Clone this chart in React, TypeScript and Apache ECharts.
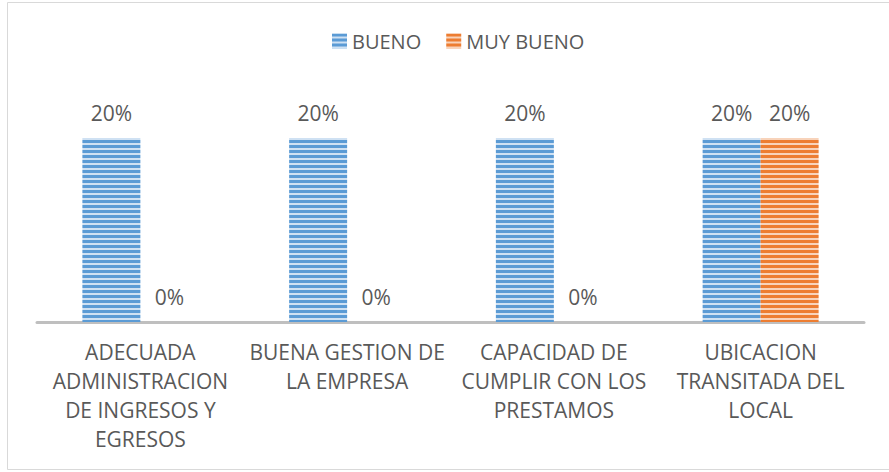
import React, { useEffect, useRef } from "react";
import * as echarts from "echarts";

const categories = [
  "ADECUADA\nADMINISTRACION\nDE INGRESOS Y\nEGRESOS",
  "BUENA GESTION DE\nLA EMPRESA",
  "CAPACIDAD DE\nCUMPLIR CON LOS\nPRESTAMOS",
  "UBICACION\nTRANSITADA DEL\nLOCAL",
];
const seriesNames = ["BUENO", "MUY BUENO"];
const bueno = [0.2, 0.2, 0.2, 0.2];
const muyBueno = [0, 0, 0, 0.2];

function stripes(dark: string, light: string) {
  const c = document.createElement("canvas");
  c.width = 4;
  c.height = 5;
  const ctx = c.getContext("2d")!;
  ctx.fillStyle = dark;
  ctx.fillRect(0, 0, 4, 5);
  ctx.fillStyle = light;
  ctx.fillRect(0, 3, 4, 2);
  return { image: c, repeat: "repeat" } as any;
}

export default function App() {
  const ref = useRef<HTMLDivElement>(null);
  useEffect(() => {
    document.body.style.margin = "0";
    document.body.style.overflow = "hidden";
    const chart = echarts.init(ref.current!, undefined, { renderer: "svg" });
    const font = "'Open Sans', 'Noto Sans', sans-serif";
    const blue = stripes("#5b9bd5", "#cfe1f3");
    const orange = stripes("#ed7d31", "#f8d3ba");
    const label = {
      show: true,
      position: "top",
      distance: 15,
      color: "#595959",
      fontSize: 21,
      fontFamily: font,
      formatter: (p: any) => Math.round(p.value * 100) + "%",
    };
    chart.setOption({
      animation: false,
      backgroundColor: "#ffffff",
      textStyle: { fontFamily: font },
      graphic: [
        {
          type: "polyline",
          shape: { points: [[895, 2.5], [7.5, 2.5], [7.5, 469.5], [895, 469.5]] },
          style: { fill: "none", stroke: "#d9d9d9", lineWidth: 1 },
          silent: true,
        },
      ],
      legend: {
        top: 26,
        left: 327,
        itemWidth: 15,
        itemHeight: 15,
        itemGap: 25,
        icon: "rect",
        textStyle: { color: "#595959", fontSize: 20, fontFamily: font },
        data: seriesNames,
      },
      grid: { left: 37, right: 25, top: 92, bottom: 150, containLabel: false },
      xAxis: {
        type: "category",
        data: categories,
        axisLine: { show: true, lineStyle: { color: "#bfbfbf", width: 3 } },
        axisTick: { show: false },
        axisLabel: {
          interval: 0,
          color: "#595959",
          fontSize: 21,
          lineHeight: 29,
          margin: 15,
          fontFamily: font,
        },
      },
      yAxis: {
        type: "value",
        min: 0,
        max: 0.25,
        show: false,
        splitLine: { show: false },
      },
      series: [
        {
          name: seriesNames[0],
          type: "bar",
          data: bueno,
          barWidth: 58,
          barGap: "0%",
          itemStyle: { color: blue },
          label,
        },
        {
          name: seriesNames[1],
          type: "bar",
          data: muyBueno,
          barWidth: 58,
          barGap: "0%",
          itemStyle: { color: orange },
          label,
        },
      ],
    });
    return () => chart.dispose();
  }, []);
  return (
    <div
      ref={ref}
      style={{ position: "absolute", left: 0, top: 0, width: 889, height: 472 }}
    />
  );
}
